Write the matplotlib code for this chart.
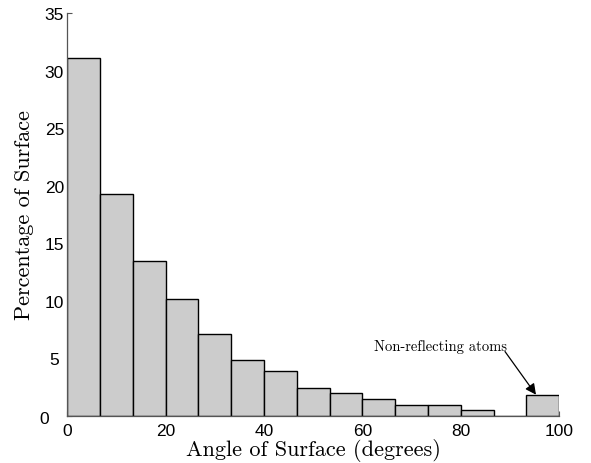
import numpy as np
import matplotlib
matplotlib.use("Agg")
import matplotlib.pyplot as plt
import matplotlib.transforms as mtransforms

# Surface-angle histogram: 15 bins of equal width spanning 0-100 degrees
bin_edges = np.linspace(0, 100, 16)
percent = [31.1, 19.3, 13.5, 10.2, 7.1, 4.9, 3.9, 2.4, 2.0, 1.5,
           0.95, 0.95, 0.55, 0.0, 1.8]
x_ticks = [0, 20, 40, 60, 80, 100]
y_ticks = [0, 5, 10, 15, 20, 25, 30, 35]

serif = "cmr10"
sans = "Liberation Sans"

fig = plt.figure(figsize=(5.91, 4.64), dpi=100)
ax = fig.add_axes([0.114, 0.1013, 0.832, 0.8685])

widths = np.diff(bin_edges)
ax.bar(bin_edges[:-1], percent, width=widths, align="edge",
       color="#cccccc", edgecolor="black", linewidth=1.0, zorder=2)

ax.set_xlim(0, 100)
ax.set_ylim(0, 35)
ax.set_xticks(x_ticks)
ax.set_yticks(y_ticks)
ax.tick_params(direction="in", length=3.5, width=0.8, color="#555555",
               labelsize=12.5)
ax.tick_params(axis="x", pad=5)
ax.tick_params(axis="y", pad=9.4)
for lab in ax.get_xticklabels():
    lab.set_fontfamily(sans)
for lab in ax.get_yticklabels():
    lab.set_fontfamily(sans)
    lab.set_horizontalalignment("center")

# nudge the y-axis zero label away from the x-axis zero label
zero_lab = ax.yaxis.get_major_ticks()[0].label1
zero_lab.set_transform(zero_lab.get_transform() +
                       mtransforms.ScaledTranslation(-7.0 / 72, -0.8 / 72,
                                                     fig.dpi_scale_trans))

for side in ("top", "right"):
    ax.spines[side].set_visible(False)
for side in ("left", "bottom"):
    ax.spines[side].set_color("#555555")
    ax.spines[side].set_linewidth(0.9)

ax.set_xlabel("Angle of Surface (degrees)", fontfamily=serif, fontsize=16,
              labelpad=0)
ax.set_ylabel("Percentage of Surface", fontfamily=serif, fontsize=16,
              labelpad=4.5)

# Label for the last bin, with an arrow pointing at it
ax.text(75.8, 5.73, "Non-reflecting atoms", fontfamily=serif, fontsize=10.5,
        ha="center", va="baseline")
ax.annotate("", xy=(95.3, percent[-1] + 0.05), xytext=(89.0, 5.6),
            arrowprops=dict(arrowstyle="-|>", color="black", lw=0.9,
                            mutation_scale=16, shrinkA=0, shrinkB=0))

fig.savefig("out.png", dpi=100)
